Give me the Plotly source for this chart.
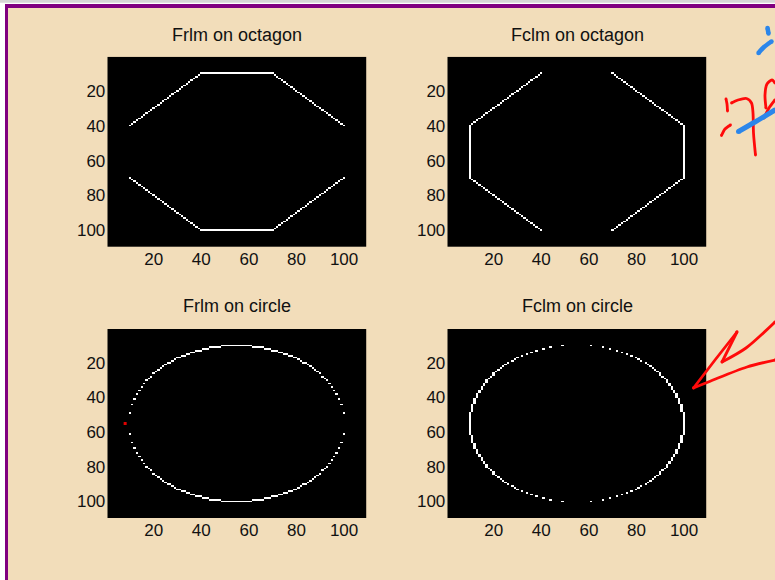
import numpy as np
import plotly.graph_objects as go

# ---- image data -------------------------------------------------------------
IMG_ROWS = 109
IMG_COLS = 109

# octagon outline vertices (column, row) in pixel units
OCTAGON_COLS = [40, 70, 100, 100, 70, 40, 10, 10]
OCTAGON_ROWS = [10, 10, 40, 70, 100, 100, 70, 40]

# disc: centre (column, row) and radius in pixels
CIRCLE_CENTER = (55, 55)
CIRCLE_RADIUS = 45

TICKS = [20, 40, 60, 80, 100]
TITLES = ["Frlm on octagon", "Fclm on octagon", "Frlm on circle", "Fclm on circle"]

# red pixel marker on the Frlm circle result
MARK_COL = [8]
MARK_ROW = [55]

# ---- page geometry (pixels) -------------------------------------------------
W, H = 775, 580
TAN = "#F2DDBA"
PURPLE = "#800080"
FONT = "Liberation Sans, Arial, Helvetica, sans-serif"


def px_x(v):
    return v / W


def px_y(v):
    return 1 - v / H


rr, cc = np.mgrid[1:IMG_ROWS + 1, 1:IMG_COLS + 1]


def fill_convex(cols, rows):
    """Binary mask of a convex polygon, boundary included."""
    n = len(cols)
    area = sum(cols[i] * rows[(i + 1) % n] - cols[(i + 1) % n] * rows[i] for i in range(n))
    s = np.sign(area)
    inside = np.ones(rr.shape, bool)
    for i in range(n):
        x0, y0 = cols[i], rows[i]
        x1, y1 = cols[(i + 1) % n], rows[(i + 1) % n]
        cross = (x1 - x0) * (rr - y0) - (y1 - y0) * (cc - x0)
        inside &= s * cross >= 0
    return inside


def fill_disc(center, radius):
    d = np.hypot(cc - center[0], rr - center[1])
    return np.rint(d) <= radius


def row_edges(mask):
    """Pixels of the mask whose vertical neighbour lies outside."""
    up = np.zeros_like(mask)
    up[1:] = mask[:-1]
    down = np.zeros_like(mask)
    down[:-1] = mask[1:]
    return mask & ~(up & down)


def col_edges(mask):
    """Pixels of the mask whose horizontal neighbour lies outside."""
    left = np.zeros_like(mask)
    left[:, 1:] = mask[:, :-1]
    right = np.zeros_like(mask)
    right[:, :-1] = mask[:, 1:]
    return mask & ~(left & right)


octagon = fill_convex(OCTAGON_COLS, OCTAGON_ROWS)
disc = fill_disc(CIRCLE_CENTER, CIRCLE_RADIUS)
images = [row_edges(octagon), col_edges(octagon), row_edges(disc), col_edges(disc)]

# axes boxes in pixels: (left, right, top, bottom)
boxes = [
    (107.3, 366.7, 56.7, 247.0),
    (447.3, 706.7, 56.7, 247.0),
    (107.3, 366.7, 329.0, 518.0),
    (447.3, 706.7, 329.0, 518.0),
]
title_y = [35, 35, 306, 306]

fig = go.Figure()
xs = np.arange(1, IMG_COLS + 1)
ys = np.arange(1, IMG_ROWS + 1)

layout = dict(
    width=W, height=H,
    margin=dict(l=0, r=0, t=0, b=0),
    paper_bgcolor="white",
    plot_bgcolor="rgba(0,0,0,0)",
    showlegend=False,
    annotations=[],
    shapes=[],
)

for i, (img, box) in enumerate(zip(images, boxes)):
    n = "" if i == 0 else str(i + 1)
    fig.add_trace(go.Heatmap(
        z=img.astype(int), x=xs, y=ys,
        colorscale=[[0, "black"], [1, "white"]],
        zmin=0, zmax=1, showscale=False, zsmooth=False,
        xaxis="x" + n, yaxis="y" + n, hoverinfo="skip",
    ))
    l, r, t, b = box
    common = dict(
        showgrid=False, zeroline=False, ticks="", tickvals=TICKS,
        tickfont=dict(family=FONT, size=17, color="#111111"),
        showline=False,
    )
    layout["xaxis" + n] = dict(common, domain=[px_x(l), px_x(r)],
                               range=[0.5, IMG_COLS + 0.5], anchor="y" + n,
                               ticklabelstandoff=0)
    layout["yaxis" + n] = dict(common, domain=[px_y(b), px_y(t)],
                               range=[IMG_ROWS + 0.5, 0.5], anchor="x" + n,
                               ticklabelstandoff=1)
    layout["annotations"].append(dict(
        text=TITLES[i], showarrow=False, xref="paper", yref="paper",
        x=px_x((l + r) / 2), y=px_y(title_y[i]), xanchor="center", yanchor="middle",
        font=dict(family=FONT, size=18, color="#111111"),
    ))

fig.add_trace(go.Scatter(
    x=MARK_COL, y=MARK_ROW, mode="markers", xaxis="x3", yaxis="y3",
    marker=dict(symbol="square", size=3, color="#E00000", line=dict(width=0)),
    hoverinfo="skip",
))

# window frame: grey strip, white edge, purple border, tan panel
frame = [
    (0, 0, W, H, "white"),
    (0, 0, W, 2.7, "#D6D6D6"),
    (5, 4, W, H, PURPLE),
    (8, 8, W, H, TAN),
]
for x0, y0, x1, y1, col in frame:
    layout["shapes"].append(dict(
        type="rect", xref="paper", yref="paper", layer="below",
        x0=px_x(x0), x1=px_x(x1), y0=px_y(y1), y1=px_y(y0),
        fillcolor=col, line=dict(width=0),
    ))

# hand-drawn pen strokes over the page (pixel coordinates)
layout["xaxis5"] = dict(domain=[0, 1], range=[0, W], visible=False, anchor="y5", fixedrange=True)
layout["yaxis5"] = dict(domain=[0, 1], range=[H, 0], visible=False, anchor="x5", fixedrange=True)

BLUE = "#2C86EA"
RED = "#FF0A0A"
strokes = [
    ([767.5, 768.5], [28, 33.5], BLUE, 4.5),
    ([758.5, 764, 771.5], [53, 47, 41.5], BLUE, 4.5),
    ([726, 727, 727.5], [99, 104, 111], RED, 2.8),
    ([731.5, 738, 746.5, 751.5, 753, 753.5, 755.5], [103, 100, 98.5, 103, 113, 133, 155], RED, 2.8),
    ([721.5, 725, 730.5], [135.5, 129, 125], RED, 2.8),
    ([766, 765, 767, 772, 775], [108, 95, 84, 80, 83], RED, 2.8),
    ([764, 769, 775], [118, 108, 100], RED, 2.8),
    ([738.5, 755, 775], [131.5, 122, 110], BLUE, 5),
    ([693.5, 715, 737], [388, 360, 332], RED, 2.8),
    ([737, 722], [332, 362], RED, 2.8),
    ([722, 746, 775], [362, 348, 322], RED, 2.8),
    ([693.5, 713, 747, 775], [388, 380, 367, 360], RED, 2.8),
]
for sx, sy, col, w in strokes:
    # line plus round end dots so the pen strokes get rounded caps
    fig.add_trace(go.Scatter(
        x=sx, y=sy, mode="lines", xaxis="x5", yaxis="y5",
        line=dict(color=col, width=w, shape="spline", smoothing=0.8),
        hoverinfo="skip",
    ))
    fig.add_trace(go.Scatter(
        x=[sx[0], sx[-1]], y=[sy[0], sy[-1]], mode="markers", xaxis="x5", yaxis="y5",
        marker=dict(color=col, size=w, line=dict(width=0)),
        hoverinfo="skip",
    ))

fig.update_layout(**layout)
fig.write_html("out.html")
